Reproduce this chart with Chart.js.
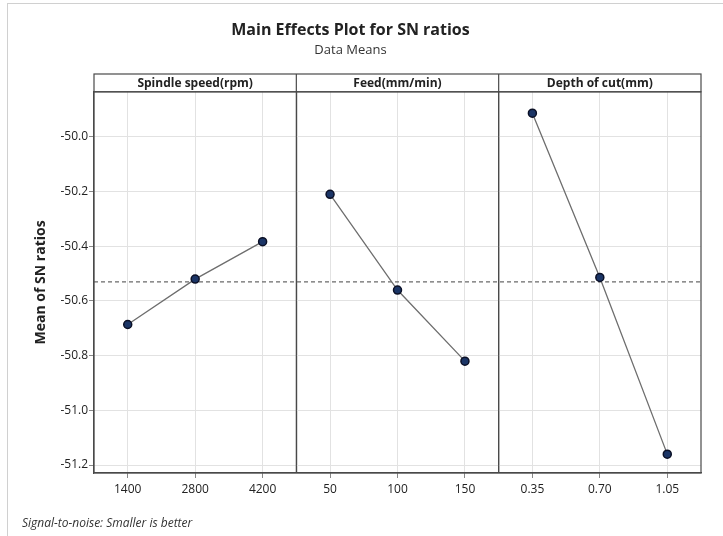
<!DOCTYPE html>
<html>
<head>
<meta charset="utf-8">
<script src="https://cdn.jsdelivr.net/npm/chart.js@4.4.1/dist/chart.umd.min.js"></script>
<style>
  html, body { margin: 0; padding: 0; background: #fff; }
  #wrap { width: 723px; height: 536px; position: relative; }
</style>
</head>
<body>
<div id="wrap"><canvas id="c" width="723" height="536"></canvas></div>
<script>
// ---- data ----
const factorNames = ['Spindle speed(rpm)', 'Feed(mm/min)', 'Depth of cut(mm)'];
const spindleLevels = ['1400', '2800', '4200'];
const feedLevels = ['50', '100', '150'];
const depthLevels = ['0.35', '0.70', '1.05'];
const spindleSN = [-50.686, -50.52, -50.383];
const feedSN = [-50.21, -50.56, -50.82];
const depthSN = [-49.913, -50.514, -51.16];
const overallMean = -50.53;
const yTicks = [-51.2, -51.0, -50.8, -50.6, -50.4, -50.2, -50.0];
const footerText = 'Signal-to-noise: Smaller is better';

const levelSets = [spindleLevels, feedLevels, depthLevels];
const seriesSets = [spindleSN, feedSN, depthSN];
const nPanels = factorNames.length;
const perPanel = 3;

// category positions on a shared linear axis
const tickLabelMap = {};
const xTickValues = [];
levelSets.forEach((lv, p) => {
  lv.forEach((lab, i) => {
    const v = p * perPanel + i + 0.5;
    tickLabelMap[v.toFixed(2)] = lab;
  });
});
for (let p = 0; p < nPanels; p++) {
  for (let i = 0; i < perPanel; i++) xTickValues.push(p * perPanel + i + 0.5);
  if (p > 0) xTickValues.push(p * perPanel);
}
xTickValues.sort((a, b) => a - b);
const isDivider = v => Math.abs(v % perPanel) < 1e-9;

const datasets = seriesSets.map((s, p) => ({
  label: factorNames[p],
  data: s.map((y, i) => ({ x: p * perPanel + i + 0.5, y })),
  borderColor: '#6e6e6e',
  borderWidth: 1.3,
  pointRadius: 4,
  pointHoverRadius: 4,
  pointBackgroundColor: '#1b3566',
  pointBorderColor: '#0b1026',
  pointBorderWidth: 1.5,
  tension: 0,
  order: 1
}));
datasets.push({
  label: 'Mean',
  data: [{ x: 0, y: overallMean }, { x: nPanels * perPanel, y: overallMean }],
  borderColor: '#6a6a6a',
  borderWidth: 1.2,
  borderDash: [4, 3],
  pointRadius: 0,
  order: 2
});

const FONT = "'Open Sans', 'Noto Sans', sans-serif";

const decor = {
  id: 'decor',
  beforeDraw(chart) {
    const ctx = chart.ctx;
    ctx.save();
    ctx.fillStyle = '#fff';
    ctx.fillRect(0, 0, chart.width, chart.height);
    ctx.strokeStyle = '#d0d0d0';
    ctx.lineWidth = 1;
    ctx.strokeRect(7.5, 3.5, 740, 560);
    ctx.restore();
  },
  afterDraw(chart) {
    const ctx = chart.ctx;
    const a = chart.chartArea;
    const xs = chart.scales.x;
    const stripTop = 74;
    ctx.save();
    ctx.strokeStyle = '#4a4a4a';
    ctx.lineWidth = 1.2;
    // plot frame + header strip
    ctx.strokeRect(a.left, a.top, a.right - a.left, a.bottom - a.top);
    ctx.strokeRect(a.left, stripTop, a.right - a.left, a.top - stripTop);
    for (let p = 1; p < nPanels; p++) {
      const px = xs.getPixelForValue(p * perPanel);
      ctx.beginPath();
      ctx.moveTo(px, stripTop);
      ctx.lineTo(px, a.bottom);
      ctx.stroke();
    }
    ctx.fillStyle = '#222';
    ctx.font = "bold 12px " + FONT;
    ctx.textAlign = 'center';
    ctx.textBaseline = 'middle';
    factorNames.forEach((n, p) => {
      const cx = xs.getPixelForValue(p * perPanel + perPanel / 2);
      ctx.fillText(n, cx, (stripTop + a.top) / 2 + 0.5);
    });
    // footer
    ctx.font = "italic 12px " + FONT;
    ctx.textAlign = 'left';
    ctx.fillStyle = '#333';
    ctx.fillText(footerText, 22, 524);
    ctx.restore();
  }
};

new Chart(document.getElementById('c'), {
  type: 'line',
  data: { datasets },
  plugins: [decor],
  options: {
    responsive: false,
    animation: false,
    devicePixelRatio: 1,
    layout: { padding: { left: 0, right: 22, top: 0, bottom: 33 } },
    plugins: {
      legend: { display: false },
      tooltip: { enabled: false },
      title: {
        display: true,
        text: 'Main Effects Plot for SN ratios',
        color: '#222',
        font: { family: FONT, size: 16, weight: 'bold', lineHeight: 1.2 },
        padding: { top: 21, bottom: 0 }
      },
      subtitle: {
        display: true,
        text: 'Data Means',
        color: '#333',
        font: { family: FONT, size: 13, lineHeight: 1.2 },
        padding: { top: 2, bottom: 34 }
      }
    },
    scales: {
      x: {
        type: 'linear',
        min: 0,
        max: nPanels * perPanel,
        afterBuildTicks: s => { s.ticks = xTickValues.map(v => ({ value: v })); },
        afterFit: s => { s.height = 30; },
        ticks: {
          autoSkip: false,
          maxRotation: 0,
          padding: 4,
          color: '#222',
          font: { family: FONT, size: 12 },
          callback: v => tickLabelMap[Number(v).toFixed(2)] || ''
        },
        grid: {
          color: c => (c.tick && isDivider(c.tick.value)) ? '#4a4a4a' : '#e2e2e2',
          lineWidth: c => (c.tick && isDivider(c.tick.value)) ? 1.2 : 1,
          tickColor: c => (c.tick && isDivider(c.tick.value)) ? 'rgba(0,0,0,0)' : '#888',
          tickLength: 5,
          drawTicks: true
        },
        border: { display: true, color: '#4a4a4a', width: 1.2 }
      },
      y: {
        min: -51.229,
        max: -49.835,
        afterBuildTicks: s => { s.ticks = yTicks.map(v => ({ value: v })); },
        afterFit: s => { s.width = 94; },
        ticks: {
          padding: 1,
          color: '#222',
          font: { family: FONT, size: 12 },
          callback: v => Number(v).toFixed(1)
        },
        grid: { color: '#e2e2e2', tickColor: '#888', tickLength: 5 },
        border: { display: true, color: '#4a4a4a', width: 1.2 },
        title: {
          display: true,
          text: 'Mean of SN ratios',
          color: '#222',
          font: { family: FONT, size: 14, weight: 'bold' },
          padding: { top: 33, bottom: 0 }
        }
      }
    }
  }
});
</script>
</body>
</html>
